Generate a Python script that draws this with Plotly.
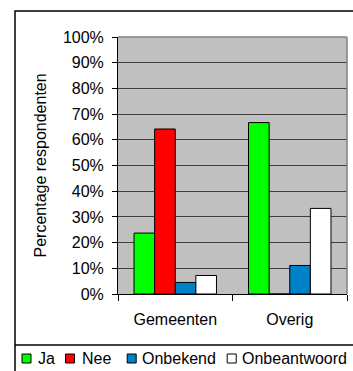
import plotly.graph_objects as go

categories = ["Gemeenten", "Overig"]
series_names = ["Ja", "Nee", "Onbekend", "Onbeantwoord"]
ja = [23.7, 66.7]
nee = [64.2, 0.0]
onbekend = [4.5, 11.1]
onbeantwoord = [7.2, 33.3]
series_values = [ja, nee, onbekend, onbeantwoord]
series_colors = ["#00FF00", "#FF0000", "#0080C8", "#FFFFFF"]
y_tick_values = list(range(0, 101, 10))
y_tick_labels = [f"{v}%" for v in y_tick_values]
y_title = "Percentage respondenten"

W, H = 353, 371
ML, MR, MT, MB = 118, 6, 37, 77
PW, PH = W - ML - MR, H - MT - MB
FONT = "Liberation Sans, Arial, sans-serif"


def px(x):
    return (x - ML) / PW


def py(y):
    return (H - MB - y) / PH


fig = go.Figure()
for name, vals, col in zip(series_names, series_values, series_colors):
    fig.add_trace(go.Bar(
        x=categories, y=vals, name=name, showlegend=False,
        marker=dict(color=col, line=dict(color="#000000", width=1)),
    ))

shapes = []
annotations = []
# outer chart border and legend separator
shapes.append(dict(type="rect", xref="paper", yref="paper",
                   x0=px(15), x1=px(W + 10), y0=py(11), y1=py(H + 10),
                   line=dict(color="#000000", width=1.5), layer="below"))
shapes.append(dict(type="line", xref="paper", yref="paper",
                   x0=px(15), x1=px(W + 10), y0=py(345), y1=py(345),
                   line=dict(color="#000000", width=1.5)))
# plot-area top and right border (gray)
shapes.append(dict(type="line", xref="paper", yref="paper", x0=0, x1=1, y0=1, y1=1,
                   line=dict(color="#808080", width=1.5), layer="above"))
shapes.append(dict(type="line", xref="paper", yref="paper", x0=1, x1=1, y0=0, y1=1,
                   line=dict(color="#808080", width=1.5), layer="above"))

# custom legend
legend_marker_x = [26.5, 70, 131.7, 231.7]
legend_text_x = [35.5, 79.5, 140, 239.5]
legend_y = 358.5
for name, col, mx, tx in zip(series_names, series_colors, legend_marker_x, legend_text_x):
    shapes.append(dict(type="rect", xref="paper", yref="paper",
                       x0=px(mx - 4.5), x1=px(mx + 4.5),
                       y0=py(legend_y - 4.5), y1=py(legend_y + 4.5),
                       fillcolor=col, line=dict(color="#000000", width=1)))
    annotations.append(dict(text=name, xref="paper", yref="paper", x=px(tx), y=py(legend_y),
                            xanchor="left", yanchor="middle", showarrow=False,
                            font=dict(family=FONT, size=16, color="#000000")))

annotations.append(dict(text=y_title, xref="paper", yref="paper", x=px(40), y=0.5,
                        xanchor="center", yanchor="middle", textangle=-90, showarrow=False,
                        font=dict(family=FONT, size=16, color="#000000")))

fig.update_layout(
    width=W, height=H,
    margin=dict(l=ML, r=MR, t=MT, b=MB, pad=0),
    paper_bgcolor="#FFFFFF", plot_bgcolor="#C0C0C0",
    barmode="group", bargap=0.28, bargroupgap=0,
    font=dict(family=FONT, size=16, color="#000000"),
    showlegend=False,
    shapes=shapes, annotations=annotations,
    xaxis=dict(type="category", tickson="boundaries", ticks="outside", ticklen=6,
               tickcolor="#000000", showline=True, linecolor="#000000", linewidth=1,
               showgrid=False, ticklabelstandoff=11, fixedrange=True),
    yaxis=dict(range=[0, 100], tickvals=y_tick_values, ticktext=y_tick_labels,
               ticks="outside", ticklen=5, tickcolor="#000000",
               showline=True, linecolor="#000000", linewidth=1,
               showgrid=True, gridcolor="#404040", gridwidth=1, zeroline=False,
               ticklabelstandoff=5, fixedrange=True),
)

fig.write_html("out.html", config={"displayModeBar": False})
